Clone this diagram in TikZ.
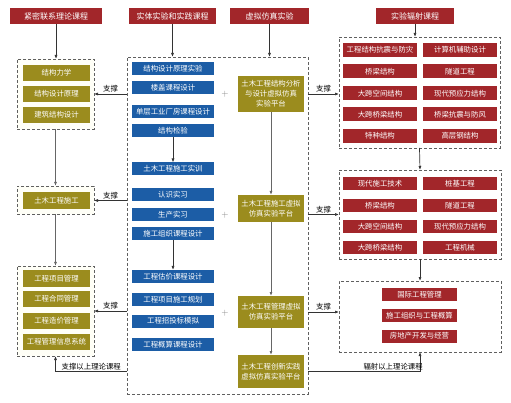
\documentclass[tikz,border=0pt]{standalone}
\usepackage{fontspec}
\newfontfamily\cjk{Noto Sans CJK SC}
\usetikzlibrary{arrows.meta}
\definecolor{hred}{HTML}{A2262A}
\definecolor{olv}{HTML}{9B8C1E}
\definecolor{blu}{HTML}{1C5DA6}
\definecolor{lnk}{HTML}{333333}
\begin{document}
\begin{tikzpicture}[x=1pt,y=-1pt,
  every node/.style={font=\cjk\fontsize{7.4}{9}\selectfont, inner sep=0pt, outer sep=0pt},
  hdr/.style={fill=hred, text=white, minimum height=16pt, font=\cjk\fontsize{8}{9}\selectfont},
  lbox/.style={fill=olv, text=white, minimum width=67pt, minimum height=16pt},
  bbox/.style={fill=blu, text=white, minimum width=82pt, minimum height=13pt},
  vbox/.style={fill=olv, text=white, minimum width=66pt, align=center, font=\cjk\fontsize{7.4}{10}\selectfont},
  rbox/.style={fill=hred, text=white, minimum width=74pt, minimum height=14pt},
  grp/.style={draw=gray!75!black, densely dashed, line width=0.8pt},
  arr/.style={draw=lnk, line width=0.7pt, -{Latex[length=4pt,width=3pt]}},
  garr/.style={draw=gray!80!black, line width=0.9pt, -{Latex[length=4pt,width=3pt]}},
  lab/.style={font=\cjk\fontsize{7.4}{9}\selectfont, text=black, anchor=south, yshift=1.5pt},
  plus/.style={text=gray, font=\fontsize{9}{9}\selectfont}
]
\useasboundingbox (0,0) rectangle (511,403);

% headers
\node[hdr, minimum width=92pt] (h1) at (56,16) {紧密联系理论课程};
\node[hdr, minimum width=87pt] (h2) at (172.5,16) {实体实验和实践课程};
\node[hdr, minimum width=79pt] (h3) at (269.5,16) {虚拟仿真实验};
\node[hdr, minimum width=78pt] (h4) at (415,16) {实验辐射课程};

% group frames
\node[grp, fill=yellow!3, minimum width=77pt, minimum height=70pt] (g1) at (55.5,94) {};
\node[grp, fill=yellow!3, minimum width=77pt, minimum height=28pt] (g2) at (55.5,200) {};
\node[grp, fill=yellow!3, minimum width=77pt, minimum height=90pt] (g3) at (55.5,311) {};
\node[grp, minimum width=181pt, minimum height=337pt] (big) at (217.5,225.5) {};
\node[grp, minimum width=161pt, minimum height=111pt] (r1) at (419.5,92.5) {};
\node[grp, minimum width=162pt, minimum height=89pt] (r2) at (420,214.5) {};
\node[grp, minimum width=162pt, minimum height=71pt] (r3) at (420,316.5) {};

% left theory courses
\node[lbox] (l1) at (56.5,73) {结构力学};
\node[lbox] (l2) at (56.5,94) {结构设计原理};
\node[lbox] (l3) at (56.5,115) {建筑结构设计};
\node[lbox, minimum height=17pt] (l4) at (56.5,200.5) {土木工程施工};
\node[lbox] (l5) at (56.5,278.5) {工程项目管理};
\node[lbox] (l6) at (56.5,299) {工程合同管理};
\node[lbox] (l7) at (56.5,321) {工程造价管理};
\node[lbox] (l8) at (56.5,342) {工程管理信息系统};

% blue practice courses
\node[bbox] (b1) at (173,68.5) {结构设计原理实验};
\node[bbox] (b2) at (173,88) {楼盖课程设计};
\node[bbox] (b3) at (173,111.5) {单层工业厂房课程设计};
\node[bbox] (b4) at (173,131) {结构检验};
\node[bbox] (b5) at (173,169) {土木工程施工实训};
\node[bbox] (b6) at (173,194.5) {认识实习};
\node[bbox] (b7) at (173,214.5) {生产实习};
\node[bbox] (b8) at (173,233.5) {施工组织课程设计};
\node[bbox] (b9) at (173,276.5) {工程估价课程设计};
\node[bbox] (b10) at (173,299.5) {工程项目施工规划};
\node[bbox] (b11) at (173,321) {工程招投标模拟};
\node[bbox] (b12) at (173,344.5) {工程概算课程设计};

% plus signs
\node[plus] (p1) at (225,94) {+};
\node[plus] (p2) at (225,215) {+};
\node[plus] (p3) at (225,313) {+};

% virtual platforms
\node[vbox, minimum height=36pt] (v1) at (271,94) {土木工程结构分析\\与设计虚拟仿真\\实验平台};
\node[vbox, minimum height=27pt] (v2) at (271,208.5) {土木工程施工虚拟\\仿真实验平台};
\node[vbox, minimum height=32pt] (v3) at (271,312) {土木工程管理虚拟\\仿真实验平台};
\node[vbox, minimum height=33pt] (v4) at (271,371.5) {土木工程创新实践\\虚拟仿真实验平台};

% right courses group 1
\node[rbox] (ra1) at (380,50) {工程结构抗震与防灾};
\node[rbox] (ra2) at (460,50) {计算机辅助设计};
\node[rbox] (ra3) at (380,71.5) {桥梁结构};
\node[rbox] (ra4) at (460,71.5) {隧道工程};
\node[rbox] (ra5) at (380,93.5) {大跨空间结构};
\node[rbox] (ra6) at (460,93.5) {现代预应力结构};
\node[rbox] (ra7) at (380,114.5) {大跨桥梁结构};
\node[rbox] (ra8) at (460,114.5) {桥梁抗震与防风};
\node[rbox] (ra9) at (380,136) {特种结构};
\node[rbox] (ra10) at (460,136) {高层钢结构};
% group 2
\node[rbox, minimum height=13pt] (rb1) at (380,184) {现代施工技术};
\node[rbox, minimum height=13pt] (rb2) at (460,184) {桩基工程};
\node[rbox, minimum height=13pt] (rb3) at (380,205.5) {桥梁结构};
\node[rbox, minimum height=13pt] (rb4) at (460,205.5) {隧道工程};
\node[rbox, minimum height=13pt] (rb5) at (380,226.5) {大跨空间结构};
\node[rbox, minimum height=13pt] (rb6) at (460,226.5) {现代预应力结构};
\node[rbox, minimum height=13pt] (rb7) at (380,248) {大跨桥梁结构};
\node[rbox, minimum height=13pt] (rb8) at (460,248) {工程机械};
% group 3
\node[rbox, minimum width=75pt, minimum height=13pt] (rc1) at (419.5,294.5) {国际工程管理};
\node[rbox, minimum width=75pt, minimum height=13pt] (rc2) at (419.5,315.5) {施工组织与工程概算};
\node[rbox, minimum width=75pt, minimum height=13pt] (rc3) at (419.5,336) {房地产开发与经营};

% header arrows
\draw[arr] (h1.south) -- (h1.south |- g1.north);
\draw[arr] (h2.south) -- (h2.south |- big.north);
\draw[arr] (h3.south) -- (h3.south |- big.north);
\draw[arr] (h4.south) -- (h4.south |- r1.north);

% left chain
\draw[garr] (g1.south) -- (g2.north);
\draw[garr] (g2.south) -- (g3.north);

% blue and virtual chains
\draw[arr] (b4.south) -- (b5.north);
\draw[arr] (b8.south) -- (b9.north);
\draw[garr] (v1.south) -- (v2.north);
\draw[garr] (v2.south) -- (v3.north);
\draw[garr] (v3.south) -- (v4.north);

% right chain
\draw[arr] (r1.south) -- (r2.north);
\draw[arr] (r2.south) -- (r3.north);

% support arrows left
\draw[arr] (g1.east -| big.west) -- (g1.east) node[lab, midway] {支撑};
\draw[arr] (l4.east -| big.west) -- (g2.east |- l4.east) node[lab, midway] {支撑};
\draw[arr] (g3.east -| big.west) -- (g3.east) node[lab, midway] {支撑};

% support arrows right
\draw[arr] (v1.east -| big.east) -- (v1.east -| r1.west) node[lab, midway] {支撑};
\draw[arr] (r2.west -| big.east) -- (r2.west) node[lab, midway] {支撑};
\draw[arr] (v3.east -| big.east) -- (v3.east -| r3.west) node[lab, midway] {支撑};

% bottom connectors
\coordinate (lsup) at (big.west |- v4.east);
\draw[arr] (lsup) -| (g3.south) node[lab, pos=0.25] {支撑以上理论课程};
\draw[arr] (v4.east -| big.east) -| (r3.south) node[lab, pos=0.38] {辐射以上理论课程};
\end{tikzpicture}
\end{document}
